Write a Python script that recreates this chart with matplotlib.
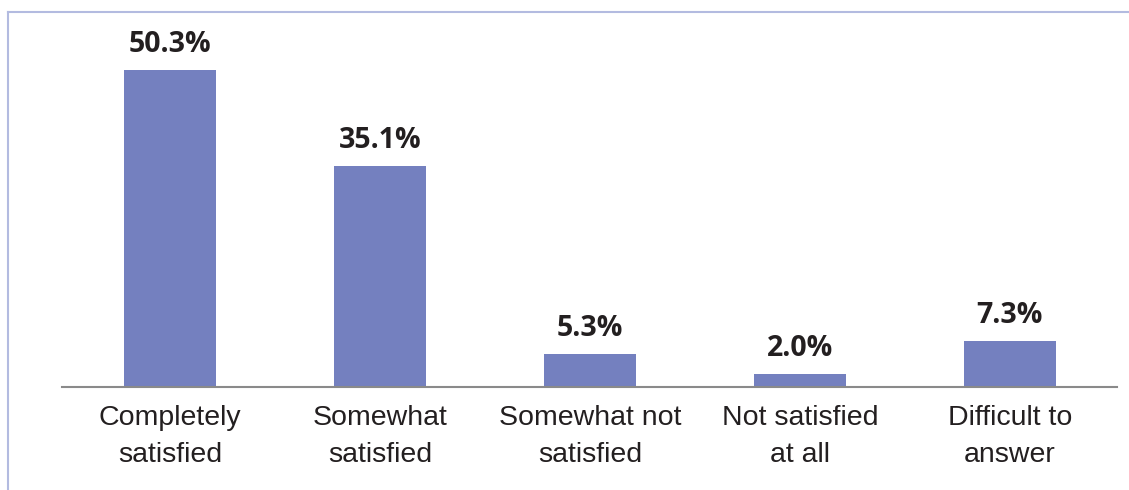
import matplotlib
matplotlib.use("Agg")
import matplotlib.pyplot as plt
from matplotlib.lines import Line2D

categories = ["Completely\nsatisfied", "Somewhat\nsatisfied", "Somewhat not\nsatisfied",
              "Not satisfied\nat all", "Difficult to\nanswer"]
values = [50.3, 35.1, 5.3, 2.0, 7.3]
value_labels = ["50.3%", "35.1%", "5.3%", "2.0%", "7.3%"]

W, H = 1129, 490
fig = plt.figure(figsize=(W / 100, H / 100), dpi=100)

# outer frame: top line and left line only
frame_color = "#b3bbe0"
fig.add_artist(Line2D([8 / W, 1], [1 - 12 / H, 1 - 12 / H], color=frame_color, lw=1.5))
fig.add_artist(Line2D([8 / W, 8 / W], [0, 1 - 12 / H], color=frame_color, lw=1.5))

ax = fig.add_axes([62 / W, 1 - 387 / H, (1117 - 62) / W, 317 / H])
x = range(len(values))
ax.bar(x, values, width=0.438, color="#7480bf", zorder=2)
ax.set_xlim(-0.514, 4.51)
ax.set_ylim(0, 50.3)

for xi, v, lab in zip(x, values, value_labels):
    ax.annotate(lab, (xi, v), xytext=(0, 13), textcoords="offset points",
                ha="center", va="baseline", fontsize=20.5, fontweight="bold",
                family=["Open Sans", "DejaVu Sans"], color="#231f20", clip_on=False)

for side in ["top", "right", "left"]:
    ax.spines[side].set_visible(False)
ax.spines["bottom"].set_color("#8a8a8a")
ax.spines["bottom"].set_linewidth(1.5)
ax.set_yticks([])
ax.set_xticks(list(x))
ax.set_xticklabels(categories, fontsize=20.5, family=["Liberation Sans", "DejaVu Sans"],
                   color="#231f20", linespacing=1.55)
ax.tick_params(axis="x", length=0, pad=13)

fig.savefig("out.png", dpi=100)
